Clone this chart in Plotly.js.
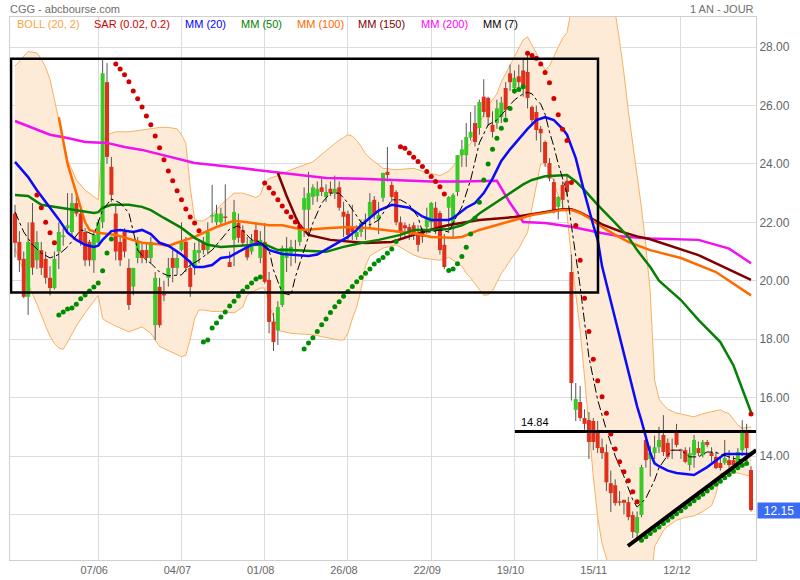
<!DOCTYPE html>
<html><head><meta charset="utf-8">
<script src="https://cdn.plot.ly/plotly-3.0.1.min.js"></script>
<style>html,body{margin:0;padding:0;background:#fff}#chart{width:800px;height:580px}</style>
</head><body><div id="chart"></div>
<script>
// ---- OHLC (daily bars, index 0..168) ----
const openP = [
22.3,21.33,20.75,19.45,22.0,20.7,21.05,20.75,20.1,19.75,
21.0,21.5,21.8,21.67,22.66,22.3,21.67,21.33,20.7,21.3,
22.0,26.8,23.9,22.3,21.33,21.67,20.44,19.8,20.78,21.05,
21.05,20.78,18.48,19.79,19.55,20.1,20.78,20.44,21.05,21.33,
20.44,20.44,20.95,21.33,21.05,22.2,22.0,22.0,22.2,20.64,
21.4,21.98,21.74,21.16,21.0,21.74,20.78,21.33,20.03,18.6,
18.3,19.17,20.78,20.95,21.0,21.33,22.43,22.43,22.87,22.9,
23.2,22.87,23.15,23.0,23.2,22.36,22.29,21.84,21.5,21.67,
22.05,22.15,22.77,22.1,22.84,23.73,23.28,23.04,22.0,21.9,
21.84,21.9,21.64,21.74,21.84,22.0,22.5,22.32,21.23,22.5,
21.9,23.04,24.3,24.3,24.9,25.4,25.23,26.3,26.26,25.34,
25.4,25.6,26.6,27.1,26.6,27.0,27.2,27.15,25.95,25.78,
25.2,24.75,24.03,23.38,22.53,23.28,23.42,20.3,15.58,15.85,
15.3,15.23,15.2,14.79,14.3,14.13,13.07,13.0,12.45,12.5,
12.42,11.98,11.36,11.98,14.55,13.9,14.1,14.3,14.72,14.45,
14.22,14.79,14.22,14.2,13.69,14.03,14.27,14.03,14.48,14.1,
13.97,13.76,13.76,13.86,13.86,13.76,14.2,14.79,13.52];
const highP = [
22.6,21.7,21.0,22.0,22.66,21.7,21.33,21.0,20.5,21.0,
22.0,21.8,23.0,23.0,23.0,22.4,21.8,21.4,21.7,22.1,
27.6,27.45,24.24,22.6,21.5,21.8,20.75,20.44,21.5,21.3,
21.3,21.5,20.3,20.1,20.0,20.78,21.05,21.05,22.0,21.5,
20.7,21.3,21.4,21.5,22.0,23.28,22.6,22.5,23.3,21.0,
22.77,22.3,21.9,21.5,21.6,22.0,21.7,21.98,20.3,18.9,
19.3,21.2,21.5,21.4,21.4,21.9,23.2,23.73,23.3,23.4,
23.5,23.3,23.4,23.6,23.4,22.7,22.4,22.6,21.9,22.1,
22.3,23.0,22.9,22.7,23.7,24.58,23.4,23.1,22.2,22.0,
21.95,22.0,21.9,21.8,22.5,22.7,22.7,22.4,21.6,22.9,
23.0,24.3,24.82,25.4,25.78,26.0,26.2,26.9,26.3,25.8,
26.2,26.3,26.8,27.4,27.2,27.4,27.6,27.73,26.0,26.0,
25.3,24.8,24.2,23.5,22.9,23.4,23.6,20.9,16.5,16.4,
15.6,15.5,15.3,15.2,14.6,14.4,13.5,13.2,12.8,12.5,
12.6,12.1,12.1,13.7,14.7,14.35,14.7,15.0,15.4,14.6,
14.6,15.1,14.25,14.3,14.3,14.72,14.5,14.55,14.55,14.3,
14.15,14.0,14.55,14.2,14.0,14.27,15.23,15.1,13.65];
const lowP = [
20.8,20.3,19.4,18.83,20.2,20.4,20.2,19.9,19.5,19.7,
20.4,21.2,21.6,21.5,22.2,21.2,20.5,20.5,20.27,21.2,
21.8,24.0,22.7,20.7,20.5,20.8,19.0,19.5,20.6,20.6,
20.6,20.6,17.97,18.4,19.3,19.8,19.95,20.2,21.0,20.3,
19.45,20.2,20.6,20.9,20.9,21.98,21.9,21.9,21.98,20.47,
20.5,21.3,21.2,20.7,20.9,21.2,20.6,19.9,18.2,17.6,
17.8,19.1,20.3,20.5,20.6,21.2,21.5,21.5,22.6,22.7,
22.9,22.7,22.9,22.8,22.4,21.5,21.4,21.4,21.4,21.5,
21.4,21.8,22.1,21.6,22.7,23.4,22.7,21.9,21.4,21.5,
21.4,21.4,21.0,21.3,21.6,21.8,21.6,20.9,20.4,21.64,
21.5,22.9,23.9,23.9,24.8,24.6,25.0,25.6,25.3,24.9,
25.2,25.4,25.6,26.5,26.4,26.6,26.3,25.9,25.3,24.8,
24.4,23.9,23.4,22.3,22.1,22.4,22.9,15.9,15.2,15.2,
14.9,13.9,14.2,14.1,13.9,12.8,12.08,12.3,12.3,12.0,
11.8,11.2,11.1,11.9,13.6,13.3,13.9,14.1,14.0,13.9,
13.9,14.3,13.9,13.75,13.5,13.6,14.0,13.95,14.3,13.8,
13.55,13.5,13.7,13.6,13.55,13.6,14.0,13.9,12.1];
const closeP = [
21.3,20.7,19.45,21.33,20.45,21.33,20.44,20.1,19.75,20.75,
21.67,21.55,21.9,22.66,22.3,21.33,20.7,20.7,21.57,22.0,
27.1,24.24,22.94,21.0,20.7,21.0,19.17,20.44,21.33,20.78,
20.78,21.33,20.1,18.48,19.5,20.44,20.44,20.78,21.33,20.44,
19.79,21.05,21.05,21.05,21.67,22.25,22.3,22.3,22.15,20.47,
22.35,21.47,21.3,20.8,21.4,21.3,21.4,19.96,18.59,17.9,
19.1,21.12,21.12,21.16,21.05,21.84,22.83,23.0,23.2,23.15,
23.04,23.04,23.0,23.15,22.5,22.19,21.57,21.67,21.67,21.98,
22.1,22.7,22.25,22.25,23.69,23.62,22.87,22.0,21.67,21.8,
21.64,21.64,21.23,21.5,22.15,22.66,21.84,21.05,20.47,22.87,
22.94,24.3,24.5,24.92,25.1,24.75,26.12,25.78,25.6,25.1,
25.9,26.1,25.85,26.8,26.95,26.8,26.7,26.26,25.5,25.16,
25.05,24.03,23.5,22.42,22.87,22.77,23.04,16.5,15.95,15.3,
15.1,14.48,14.48,14.27,14.1,13.1,12.73,12.39,12.4,12.4,
11.91,11.4,11.91,13.62,13.86,14.1,14.3,14.55,14.14,13.97,
14.18,14.38,14.18,13.8,14.1,14.55,14.1,14.48,14.38,14.0,
13.59,13.59,13.93,13.69,13.69,14.14,14.79,14.27,12.15];

// ---- SAR (0.02, 0.2) ----
const sar = [
null,null,null,null,null,22.94,22.5,22.0,21.64,21.3,
18.83,18.93,19.03,19.07,19.2,19.38,19.51,19.65,19.79,19.92,20.34,20.95,21.43,
27.42,27.25,27.05,26.81,26.5,26.23,25.95,25.64,25.34,24.96,24.55,24.14,23.76,23.42,23.08,22.77,22.46,22.18,21.98,21.71,
17.9,17.97,18.38,18.55,18.76,18.93,19.14,19.3,19.48,19.65,19.79,19.92,20.06,20.13,
23.35,23.18,23.0,22.77,22.56,22.36,22.18,22.01,21.86,
17.66,17.87,18.05,18.26,18.49,18.69,18.91,19.11,19.28,19.47,19.63,19.8,19.97,20.11,20.26,20.4,20.57,20.69,20.8,20.94,21.09,21.34,
24.59,24.54,24.37,24.23,24.08,23.91,23.74,23.57,23.4,23.22,22.97,
20.35,20.4,20.58,20.83,21.15,21.6,22.14,22.69,23.45,24.0,24.5,24.88,25.22,25.5,25.9,26.5,26.55,26.64,
27.79,27.71,27.62,27.42,27.13,26.78,26.24,25.68,25.19,24.8,23.36,21.89,20.7,19.4,18.26,17.31,16.58,16.03,15.46,14.75,14.24,13.8,13.46,13.15,12.78,12.43,
11.12,11.24,11.35,11.46,11.57,11.69,11.8,11.91,12.02,12.13,12.25,12.36,12.47,12.58,12.69,12.8,12.92,13.03,13.14,13.26,13.37,13.48,13.6,13.68,13.74,
15.44];

// ---- Bollinger (20, 2) ----
const bandIdx = [0,2,3,5,6,7,8,9,10,11,12,13,14,16,18,19,20,21,23,26,29,31,33,35,37,38,39,40,41,42,43,45,47,50,52,53,55,56,57,58,60,63,68,71,74,75,76,77,78,79,80,81,84,87,91,93,97,99,101,102,103,104,105,106,107,108,109,110,111,112,113,114,115,116,117,118,119,120,121,122,123,124,125,126,127,128,129,130,131,132,133,134,135,136,137,138,139,140,141,142,143,144,145,146,147,148,149,151,153,155,157,159,160,161,162,163,164,165,166,168];
const bandUp = [27.35,27.7,27.85,27.8,27.6,27.3,26.9,26.2,25.5,24.8,24.15,23.8,23.45,23.1,22.87,22.77,24.8,25.0,25.1,25.1,25.16,25.2,25.25,25.25,25.2,25.0,24.7,23.2,22.1,22.05,22.05,22.25,22.6,23.0,23.0,22.95,22.85,22.95,23.35,23.5,23.6,23.8,24.07,24.45,24.82,24.9,25.0,24.95,24.8,24.6,24.35,24.2,23.85,23.8,23.85,23.75,23.6,23.75,24.1,24.4,24.55,24.7,25.0,25.4,25.7,26.0,26.2,26.4,26.8,27.1,27.4,27.7,28.0,28.25,28.35,28.1,27.8,27.5,27.22,27.35,27.7,28.0,28.3,28.5,29.3,29.9,30.2,30.4,30.6,30.6,30.6,30.5,30.2,29.8,29.2,28.2,27.1,25.8,24.7,23.7,22.5,21.2,19.6,16.6,15.95,15.75,15.6,15.47,15.4,15.34,15.45,15.5,15.55,15.58,15.5,15.45,15.25,15.06,14.95,15.0];
const bandLow = [21.1,20.3,19.9,19.2,18.8,18.45,18.1,17.85,17.7,17.65,17.9,18.2,18.45,18.9,19.3,19.5,18.7,18.6,18.45,18.25,18.42,18.2,17.75,17.6,17.45,17.4,17.45,18.0,18.7,19.0,19.0,18.95,18.95,18.9,19.1,19.5,19.68,19.75,19.75,19.2,18.3,18.2,18.15,18.05,17.97,17.97,18.2,18.7,19.1,19.7,20.5,20.85,21.12,21.23,20.88,20.78,20.7,20.8,20.6,20.5,20.25,20.1,19.9,19.7,19.5,19.52,19.65,19.95,20.25,20.45,20.7,20.9,21.1,21.4,21.65,22.5,23.3,24.0,24.0,23.8,23.4,22.9,22.6,22.3,20.8,19.6,18.3,16.7,15.0,13.3,11.9,11.0,10.5,10.0,9.4,9.0,8.8,8.6,8.6,8.7,8.8,9.0,9.4,10.9,11.2,11.45,11.6,11.8,11.9,11.95,12.1,12.3,12.7,13.4,13.42,13.42,13.42,13.42,13.38,13.3];

// ---- moving averages ----
const mm20Idx = [0,3,5,7,10,12,14,16,18,19,20,22,24,27,29,31,33,35,38,40,41,43,45,47,49,51,54,56,58,61,67,69,73,76,78,79,83,86,88,90,93,95,99,100,103,105,107,109,111,113,115,117,119,121,123,125,126,127,128,130,131,132,133,134,135,137,139,141,142,143,144,145,146,147,149,151,155,158,160,162,165,168];
const mm20Val = [24.07,23.55,23.1,22.7,22.1,21.65,21.4,21.23,21.16,21.2,21.4,21.7,21.74,21.67,21.74,21.6,21.3,21.2,20.9,20.64,20.47,20.47,20.54,20.78,20.82,20.99,21.23,21.29,21.05,20.92,20.85,20.9,21.23,21.5,21.74,21.9,22.4,22.6,22.55,22.5,22.2,22.08,22.08,22.15,22.5,22.66,23.0,23.5,24.1,24.5,24.85,25.2,25.5,25.6,25.5,25.2,25.0,24.6,24.2,23.0,22.4,21.9,21.4,20.5,19.9,18.7,17.4,16.3,15.7,15.2,14.6,14.1,13.75,13.65,13.5,13.42,13.35,13.62,13.85,14.07,14.07,14.07];
const mm50Idx = [0,3,6,10,14,18,19,20,22,26,29,31,34,38,41,44,47,53,57,60,63,71,75,79,83,88,91,95,99,102,104,106,108,110,113,116,118,121,126,128,130,133,137,140,142,145,147,152,156,161,164,166,168];
const mm50Val = [22.94,22.9,22.6,22.5,22.4,22.32,22.35,22.5,22.6,22.6,22.53,22.42,22.15,21.81,21.47,21.23,21.16,21.2,21.25,21.05,21.05,20.99,21.16,21.29,21.4,21.57,21.74,21.74,21.77,21.9,22.05,22.3,22.5,22.7,23.0,23.3,23.45,23.58,23.62,23.4,23.1,22.6,21.98,21.5,21.05,20.47,20.0,19.34,18.66,17.9,17.1,16.3,15.5];
const mm100Idx = [10,12,14,16,17,19,23,27,29,33,35,37,41,46,50,53,58,61,66,71,76,81,88,92,95,100,102,106,110,114,118,122,125,127,129,131,134,137,140,143,145,152,160,168];
const mm100Val = [25.6,24.0,23.0,22.0,21.74,21.64,21.57,21.4,21.3,21.25,21.19,21.3,21.5,21.84,22.05,22.0,21.9,21.9,21.74,21.8,21.84,21.8,21.67,21.6,21.5,21.47,21.5,21.74,21.91,22.08,22.25,22.35,22.42,22.42,22.32,22.15,21.84,21.57,21.33,21.16,21.05,20.78,20.3,19.5];
const mm150Idx = [60,62,64,65,67,72,80,86,91,96,99,106,114,120,122,125,127,129,131,134,138,142,145,156,168];
const mm150Val = [23.69,22.9,22.2,21.9,21.57,21.4,21.29,21.33,21.57,21.8,21.91,22.08,22.18,22.32,22.39,22.45,22.45,22.34,22.18,21.93,21.7,21.52,21.42,20.88,20.03];
const mm200Idx = [0,4,8,12,16,21,25,29,34,41,49,55,58,63,71,79,88,95,102,110,113,116,121,127,133,138,145,156,163,168];
const mm200Val = [25.47,25.23,25.0,24.89,24.75,24.72,24.58,24.48,24.3,24.03,23.9,23.8,23.73,23.65,23.52,23.49,23.45,23.4,23.4,23.42,22.66,22.01,21.98,21.85,21.66,21.52,21.45,21.4,21.1,20.6];
const mm7Idx = [0,1,2,4,6,8,10,12,14,15,16,18,20,22,24,26,28,30,31,33,35,38,40,42,45,47,49,51,53,54,56,58,59,61,63,64,66,68,70,72,74,76,79,81,83,86,88,90,92,93,95,97,99,100,102,104,106,108,110,112,114,116,117,118,119,120,121,122,123,124,125,126,127,128,129,131,133,135,137,139,141,142,144,146,147,149,150,152,154,156,158,160,162,164,166,168];
const mm7Val = [22.36,22.0,21.67,21.23,20.95,20.78,20.9,21.16,21.57,21.74,21.7,21.57,22.42,22.8,22.66,22.32,21.05,20.7,20.6,20.3,20.17,20.2,20.54,20.71,21.05,21.4,21.77,21.88,21.57,21.4,21.33,21.05,20.37,19.58,19.51,20.13,21.05,21.98,22.66,23.0,23.0,22.66,22.0,21.91,22.08,22.77,22.77,22.6,22.18,21.67,21.67,21.74,21.67,21.98,22.53,23.45,24.72,25.34,25.5,25.85,26.19,26.4,26.45,26.4,26.2,26.05,25.7,25.1,24.6,24.0,23.5,23.0,21.9,20.8,19.8,17.39,15.92,14.89,14.0,13.3,12.5,12.25,12.55,13.18,13.6,14.03,14.2,14.2,13.97,13.97,14.14,14.12,14.03,13.92,13.86,13.86];

// ---- axis labels & drawings ----
const tickIdx = [19,38,57,76,95,114,133,152];
const tickLabels = ['07/06','04/07','01/08','26/08','22/09','19/10','15/11','12/12'];
const yTickVals = [12,14,16,18,20,22,24,26,28];
const resistance = 14.84;
const lastPrice = 12.15;
const boxX = [-0.9, 133.07], boxY = [19.6, 27.6];
const trendX = [139.9, 169.2], trendY = [10.92, 14.2];
const resistStart = 114.1;

// ---- build traces ----
const N = openP.length;
const wx = [], wy = [];
const gx = [], gy = [], rx = [], ry = [];
for (let i = 0; i < N; i++) {
  wx.push(i, i, null); wy.push(lowP[i], highP[i], null);
  let lo = Math.min(openP[i], closeP[i]), hi = Math.max(openP[i], closeP[i]);
  if (hi - lo < 0.04) { const m = (hi + lo) / 2; lo = m - 0.02; hi = m + 0.02; }
  if (closeP[i] >= openP[i]) { gx.push(i, i, null); gy.push(lo, hi, null); }
  else { rx.push(i, i, null); ry.push(lo, hi, null); }
}
const sx = [], sy = [], sc = [];
for (let i = 0; i < N; i++) {
  if (sar[i] === null) continue;
  sx.push(i); sy.push(sar[i]);
  sc.push(sar[i] > (highP[i] + lowP[i]) / 2 ? '#d40000' : '#008c00');
}

const line = (x, y, color, width, dash) => ({type:'scatter', mode:'lines', x, y, hoverinfo:'skip',
  line:{color, width, dash: dash || 'solid', shape:'linear'}});

const traces = [
  {type:'scatter', mode:'lines', x:bandIdx, y:bandUp, line:{color:'#f7b163', width:1}, hoverinfo:'skip'},
  {type:'scatter', mode:'lines', x:bandIdx, y:bandLow, fill:'tonexty', fillcolor:'#fdebd7', line:{color:'#f7b163', width:1}, hoverinfo:'skip'},
  line(wx, wy, '#555555', 1),
  line(gx, gy, '#39c926', 4),
  line(rx, ry, '#e0301c', 4),
  line(mm200Idx, mm200Val, '#f010f0', 2.5),
  line(mm150Idx, mm150Val, '#800000', 2.5),
  line(mm100Idx, mm100Val, '#ff6a00', 2.5),
  line(mm50Idx, mm50Val, '#058005', 2.5),
  line(mm20Idx, mm20Val, '#0a0aff', 2.5),
  line(mm7Idx, mm7Val, '#000000', 1, 'dashdot'),
  {type:'scatter', mode:'markers', x:sx, y:sy, marker:{color:sc, size:5}, hoverinfo:'skip'}
];

const F = 'Arial, "Liberation Sans", sans-serif';
const px = v => (v - 10) / 746, py = v => (560 - v) / 543;
const legendItems = [
  ['BOLL (20, 2)', '#f9a43f', 15], ['SAR (0.02, 0.2)', '#cc0000', 92],
  ['MM (20)', '#0000ff', 183], ['MM (50)', '#008000', 239], ['MM (100)', '#ff6600', 295],
  ['MM (150)', '#800000', 356], ['MM (200)', '#ff00ff', 419], ['MM (7)', '#000000', 481]
];
const annotations = legendItems.map(([t, c, x]) => ({xref:'paper', yref:'paper', x:px(x), y:py(24), xanchor:'left', yanchor:'middle',
  text:t, showarrow:false, font:{family:F, size:11, color:c}}));
annotations.push(
  {xref:'paper', yref:'paper', x:px(8), y:py(9), xanchor:'left', yanchor:'middle', text:'CGG - abcbourse.com', showarrow:false, font:{family:F, size:11, color:'#6e6e6e'}},
  {xref:'paper', yref:'paper', x:px(756), y:py(9), xanchor:'right', yanchor:'middle', text:'1 AN - JOUR', showarrow:false, font:{family:F, size:11, color:'#6e6e6e'}},
  {xref:'x', yref:'y', x:115, y:resistance, xanchor:'left', yanchor:'bottom', yshift:1, text:resistance.toFixed(2), showarrow:false, font:{family:F, size:11, color:'#000'}},
  {xref:'paper', yref:'y', x:1, y:lastPrice, xanchor:'left', yanchor:'middle', xshift:1, text:lastPrice.toFixed(2), showarrow:false,
   bgcolor:'#3b6cf5', width:42, height:15, borderpad:0, align:'center', font:{family:F, size:12, color:'#ffffff'}}
);

const shapes = [
  {type:'rect', xref:'x', yref:'y', x0:boxX[0], x1:boxX[1], y0:boxY[0], y1:boxY[1], line:{color:'#000', width:2.5}, layer:'above'},
  {type:'line', xref:'x', yref:'y', x0:resistStart, x1:169.2, y0:resistance, y1:resistance, line:{color:'#000', width:3}, layer:'above'},
  {type:'line', xref:'x', yref:'y', x0:trendX[0], x1:trendX[1], y0:trendY[0], y1:trendY[1], line:{color:'#000', width:4}, layer:'above'}
];

const layout = {
  width:800, height:580, margin:{l:10, r:44, t:17, b:20},
  paper_bgcolor:'#ffffff', plot_bgcolor:'#ffffff', showlegend:false, dragmode:false,
  xaxis:{range:[-1.14, 169.14], tickvals:tickIdx, ticktext:tickLabels, showgrid:true, gridcolor:'#dcdcdc', gridwidth:1,
    zeroline:false, showline:true, mirror:true, linecolor:'#cfcfcf', linewidth:1, ticks:'', ticklabelshift:-4,
    tickfont:{family:F, size:11, color:'#666'}, fixedrange:true},
  yaxis:{range:[10.44, 29.03], side:'right', tickvals:yTickVals, ticktext:yTickVals.map(v => v === 12 ? '' : v.toFixed(2)),
    showgrid:true, gridcolor:'#dcdcdc', gridwidth:1, zeroline:false, showline:true, mirror:true, linecolor:'#cfcfcf', linewidth:1,
    ticks:'', tickfont:{family:F, size:12, color:'#666'}, fixedrange:true},
  annotations, shapes
};
Plotly.newPlot('chart', traces, layout, {displayModeBar:false, staticPlot:true});
</script>
</body></html>
